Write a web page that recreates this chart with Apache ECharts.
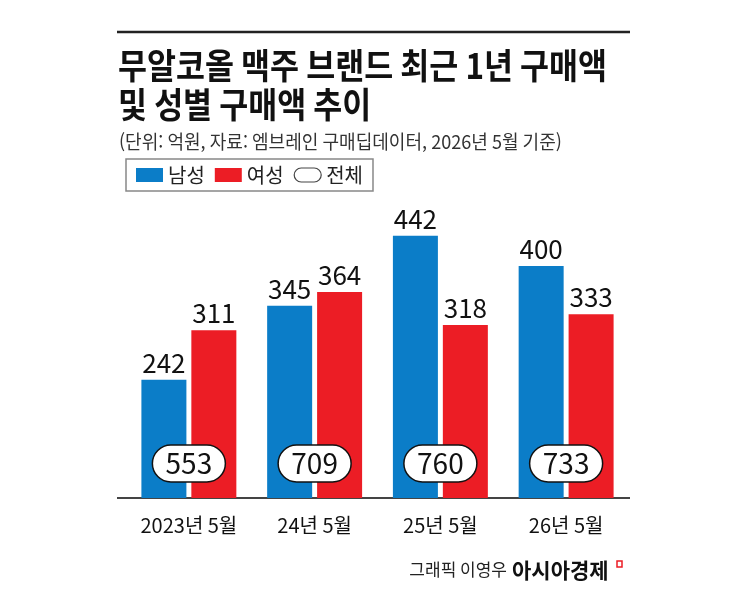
<!DOCTYPE html>
<html lang="ko">
<head>
    <meta charset="UTF-8">
    <title>무알코올 맥주 브랜드 구매액</title>
    <script src="https://cdn.jsdelivr.net/npm/echarts@6/dist/echarts.min.js"></script>
    <style>
        body { margin: 0; background: #fff; }
    </style>
</head>
<body>
    <div id="main" style="width: 745px;height:602px;"></div>
    <script type="text/javascript">
        // 데이터 (단위: 억원)
        var categories = ['2023년 5월', '24년 5월', '25년 5월', '26년 5월'];
        var male = [242, 345, 442, 400];
        var female = [311, 364, 318, 333];
        var total = [553, 709, 760, 733];

        var FONT = '"Noto Sans CJK KR", "Noto Sans", sans-serif';
        var BLUE = '#0b7dc8';
        var RED = '#ec1d25';
        var yMin = 78, yMax = 500;

        var myChart = echarts.init(document.getElementById('main'));

        var option = {
            backgroundColor: '#fff',
            animation: false,
            textStyle: { fontFamily: FONT },
            legend: {
                left: 126,
                top: 159,
                padding: [6, 10, 6, 10],
                borderColor: '#888',
                borderWidth: 1.5,
                itemWidth: 27,
                itemHeight: 14,
                itemGap: 10,
                textStyle: { fontSize: 20, color: '#222', fontFamily: FONT },
                data: [
                    { name: '남성', icon: 'rect' },
                    { name: '여성', icon: 'rect' },
                    {
                        name: '전체',
                        icon: 'path://M7,0L20,0A7,7,0,0,1,20,14L7,14A7,7,0,0,1,7,0Z',
                        itemStyle: { color: '#fff', borderColor: '#444', borderWidth: 1.2 }
                    }
                ]
            },
            grid: { left: 126, right: 116, top: 194, bottom: 104 },
            xAxis: {
                type: 'category',
                data: categories,
                axisLine: { show: false },
                axisTick: { show: false },
                axisLabel: { interval: 0, fontSize: 20, color: '#111', margin: 17, fontFamily: FONT }
            },
            yAxis: {
                type: 'value',
                min: yMin,
                max: yMax,
                show: false,
                splitLine: { show: false }
            },
            series: [
                {
                    name: '남성',
                    type: 'bar',
                    data: male,
                    barWidth: 45,
                    barGap: '11%',
                    itemStyle: { color: BLUE },
                    label: { show: true, position: 'top', distance: 4, fontSize: 26, color: '#111', fontFamily: FONT }
                },
                {
                    name: '여성',
                    type: 'bar',
                    data: female,
                    barWidth: 45,
                    barGap: '11%',
                    itemStyle: { color: RED },
                    label: { show: true, position: 'top', distance: 4, fontSize: 26, color: '#111', fontFamily: FONT }
                },
                {
                    // 전체 합계: 막대 아래쪽 알약 모양
                    name: '전체',
                    type: 'custom',
                    z: 5,
                    itemStyle: { color: '#fff' },
                    data: total.map(function (v, i) { return [i, v]; }),
                    encode: { x: 0, y: 1 },
                    renderItem: function (params, api) {
                        var p = api.coord([api.value(0), yMin]);
                        var x = p[0], base = p[1];
                        return {
                            type: 'group',
                            children: [
                                {
                                    type: 'rect',
                                    shape: { x: x - 36.5, y: base - 53, width: 73, height: 37, r: 18.5 },
                                    style: { fill: '#fff', stroke: '#111', lineWidth: 1.5 }
                                },
                                {
                                    type: 'text',
                                    x: x,
                                    y: base - 34.5,
                                    style: {
                                        text: String(api.value(1)),
                                        fontSize: 28,
                                        fontFamily: FONT,
                                        fill: '#111',
                                        align: 'center',
                                        verticalAlign: 'middle'
                                    }
                                }
                            ]
                        };
                    }
                }
            ],
            graphic: [
                // 상단 선
                { type: 'line', shape: { x1: 117, y1: 32, x2: 630, y2: 32 }, style: { stroke: '#222', lineWidth: 2.5 } },
                // 제목
                {
                    type: 'text', x: 118, y: 66, scaleX: 0.9,
                    style: { text: '무알코올 맥주 브랜드 최근 1년 구매액', font: 'bold 35px ' + FONT, fill: '#111', verticalAlign: 'middle' }
                },
                {
                    type: 'text', x: 118, y: 105, scaleX: 0.9,
                    style: { text: '및 성별 구매액 추이', font: 'bold 35px ' + FONT, fill: '#111', verticalAlign: 'middle' }
                },
                {
                    type: 'text', x: 119, y: 142, scaleX: 0.95,
                    style: { text: '(단위: 억원, 자료: 엠브레인 구매딥데이터, 2026년 5월 기준)', font: '19px ' + FONT, fill: '#333', verticalAlign: 'middle' }
                },
                // 기준선
                { type: 'line', shape: { x1: 117, y1: 498, x2: 630, y2: 498 }, style: { stroke: '#444', lineWidth: 2 } },
                // 출처
                {
                    type: 'text', x: 507, y: 570,
                    style: { text: '그래픽 이영우', font: '17px ' + FONT, fill: '#222', align: 'right', verticalAlign: 'middle' }
                },
                {
                    type: 'text', x: 512, y: 570,
                    style: { text: '아시아경제', font: 'bold 21px ' + FONT, fill: '#111', verticalAlign: 'middle' }
                },
                { type: 'rect', shape: { x: 617, y: 561, width: 5, height: 6 }, style: { fill: 'none', stroke: RED, lineWidth: 1.5 } }
            ]
        };

        myChart.setOption(option);
    </script>
</body>
</html>
